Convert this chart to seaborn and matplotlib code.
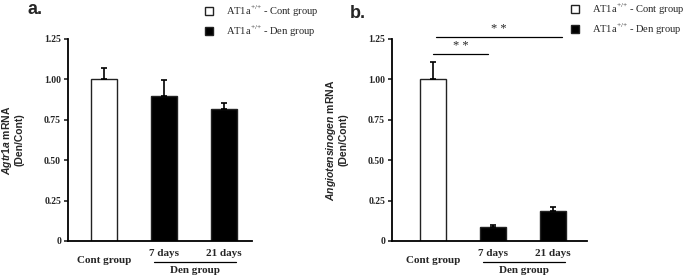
import numpy as np
import pandas as pd
import matplotlib
matplotlib.use("Agg")
import matplotlib.pyplot as plt
import seaborn as sns

# data
days = ["Cont group", "7 days", "21 days"]
groups = ["AT1a$^{\\mathregular{{+}/{+}}}$ - Cont group",
          "AT1a$^{\\mathregular{{+}/{+}}}$ - Den group",
          "AT1a$^{\\mathregular{{+}/{+}}}$ - Den group"]
agtr1a = [1.00, 0.90, 0.817]
agtr1a_err = [0.07, 0.096, 0.04]
angio = [1.00, 0.085, 0.184]
angio_err = [0.108, 0.015, 0.028]
y_ticks = [0, 0.25, 0.50, 0.75, 1.00, 1.25]
y_ticklabels = ["0", "0.25", "0.50", "0.75", "1.00", "1.25"]

sns.set_style("ticks")
plt.rcParams["mathtext.fontset"] = "custom"
plt.rcParams["mathtext.it"] = "Liberation Sans:italic:bold"
plt.rcParams["mathtext.rm"] = "Liberation Sans:bold"

serif = "Liberation Serif"
sans = "Liberation Sans"

fig = plt.figure(figsize=(6.85, 2.77), dpi=100)
ax_a = fig.add_axes([68 / 685, 1 - 241 / 277, 184 / 685, 202 / 277])
ax_b = fig.add_axes([392 / 685, 1 - 241 / 277, 195 / 685, 202 / 277])

palette = {groups[0]: "white", groups[1]: "black"}


def draw_panel(ax, vals, errs, ylabel, xlim):
    df = pd.DataFrame({"day": days, "value": vals, "group": groups})
    sns.barplot(data=df, x="day", y="value", hue="group", dodge=False,
                palette=palette, edgecolor="#222222", linewidth=1,
                width=0.43, errorbar=None, ax=ax, legend=True)
    ax.errorbar(range(len(vals)), vals, yerr=[np.zeros(len(vals)), errs],
                fmt="none", ecolor="black", elinewidth=1.2, capsize=2.2,
                capthick=1.2, zorder=5)
    ax.set_ylim(0, 1.25)
    ax.set_xlim(*xlim)
    ax.set_yticks(y_ticks)
    ax.set_yticklabels(y_ticklabels, fontfamily=serif, fontweight="bold",
                       fontsize=7)
    ax.set_xticks([])
    ax.set_xlabel("")
    ax.set_ylabel(ylabel, fontfamily=sans, fontweight="bold", fontsize=7.5,
                  labelpad=14, linespacing=1.1)
    for s in ["top", "right"]:
        ax.spines[s].set_visible(False)
    for s in ["left", "bottom"]:
        ax.spines[s].set_linewidth(1.3)
        ax.spines[s].set_color("black")
    ax.tick_params(axis="y", length=3, width=1.2, pad=2)

    tr = ax.get_xaxis_transform()
    ax.text(0, -0.095, days[0], transform=tr, ha="center", va="center",
            fontfamily=serif, fontweight="bold", fontsize=8)
    for i in (1, 2):
        ax.text(i, -0.06, days[i], transform=tr, ha="center", va="center",
                fontfamily=serif, fontweight="bold", fontsize=8)
    ax.plot([0.83, 2.2], [-0.104, -0.104], transform=tr, color="black",
            lw=0.9, clip_on=False)
    ax.text(1.52, -0.145, "Den group", transform=tr, ha="center",
            va="center", fontfamily=serif, fontweight="bold", fontsize=8)


draw_panel(ax_a, agtr1a, agtr1a_err,
           "$\\it{Agtr1a}$ mRNA\n(Den/Cont)", (-0.6, 2.47))
draw_panel(ax_b, angio, angio_err,
           "$\\it{Angiotensinogen}$ mRNA\n(Den/Cont)", (-0.68, 2.57))

# significance bars in panel b
for x0, x1, yv in [(0.0, 0.92, 1.157), (0.05, 2.15, 1.26)]:
    ax_b.plot([x0, x1], [yv, yv], color="black", lw=0.9, clip_on=False)
    ax_b.text((x0 + x1) / 2, yv + 0.012, "* *", ha="center", va="bottom",
              fontfamily=serif, fontsize=9, clip_on=False)

# legends
for ax, xl, yt in [(ax_a, 205 / 685, 1 - 4 / 277), (ax_b, 571 / 685, 1 - 2 / 277)]:
    sns.move_legend(ax, loc="upper left", bbox_to_anchor=(xl, yt),
                    bbox_transform=fig.transFigure, frameon=False, title=None,
                    prop={"family": serif, "size": 7.6},
                    handlelength=0.8, handleheight=0.8, handletextpad=1.2,
                    labelspacing=0.45, borderpad=0, borderaxespad=0)

# panel letters
fig.text(28 / 685, 1 - 9 / 277, "a.", fontfamily=sans, fontweight="bold",
         fontsize=13, va="center")
fig.text(350 / 685, 1 - 13 / 277, "b.", fontfamily=sans, fontweight="bold",
         fontsize=13, va="center")

fig.savefig("out.png", dpi=100)
